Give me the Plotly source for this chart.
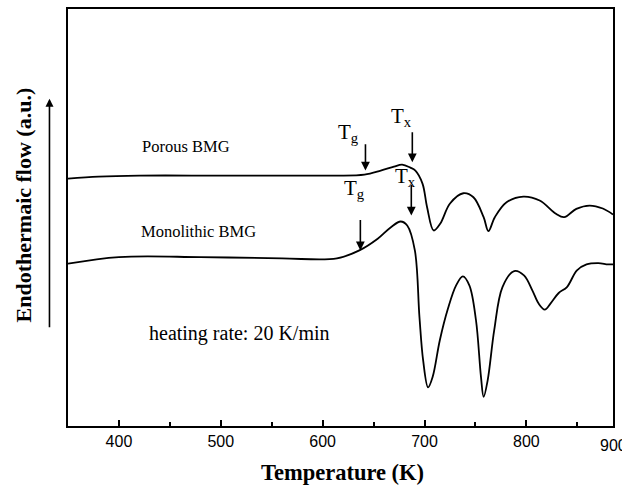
import plotly.graph_objects as go

# Temperature (K) and endothermic flow (a.u.)
temp_porous = [350, 380, 420, 500, 600, 615, 641, 657, 670, 678, 686, 691, 698, 702.5, 709, 715.5,
               725, 738, 748, 758, 762.7, 769, 780.5, 797, 813, 829, 837, 849, 862, 875, 885]
flow_porous = [248, 250, 251, 251, 251, 251, 252, 256, 260, 262, 259, 256, 243, 219.3, 196, 203,
               223, 233.3, 229.3, 209.3, 195.3, 209.3, 224.3, 230, 226, 212.7, 209.3, 217.7, 221, 218, 212]

temp_mono = [350, 400, 480, 560, 614, 636, 654, 667, 676.5, 683, 690.5, 695, 698.6, 703.5, 708, 715,
             723, 731, 737.6, 744, 750.5, 755.4, 758, 762, 768.4, 776.5, 788, 797.6, 805.8, 812, 818,
             823.6, 831.7, 839.8, 849.6, 859, 870.6, 880, 885]
flow_mono = [162.7, 169.3, 169.3, 168, 168, 176, 187.7, 199.3, 205, 201, 176, 109.3, 66, 38.7, 49.3, 86,
             117.7, 141, 150, 141, 106, 49.3, 29.3, 46, 96, 139.3, 155.3, 151, 136, 122.7, 116.7,
             122.7, 133.3, 139.3, 156, 162, 163.3, 162, 162]

major_ticks = [400, 500, 600, 700, 800]
minor_ticks = [450, 550, 650, 750, 850]
tick_labels = ["400", "500", "600", "700", "800"]

SERIF = "Liberation Serif"
SANS = "Liberation Sans"

fig = go.Figure()
for t, f in [(temp_porous, flow_porous), (temp_mono, flow_mono)]:
    fig.add_trace(go.Scatter(x=t, y=f, mode="lines", line=dict(color="black", width=1.8, shape="spline"),
                             showlegend=False, hoverinfo="skip"))

annotations = []
# Tg / Tx arrows: (x, tip y, tail y)
arrows = [(642, 256, 284), (688, 264.3, 296), (637, 176, 208), (687, 211, 243)]
for x, tip, tail in arrows:
    annotations.append(dict(x=x, y=tip, ax=x, ay=tail, xref="x", yref="y", axref="x", ayref="y",
                            text="", showarrow=True, arrowhead=2, arrowsize=1.1, arrowwidth=1.6,
                            arrowcolor="black"))
# Tg / Tx labels
labels = [("T<sub>g</sub>", 625.5, 294), ("T<sub>x</sub>", 677.5, 310),
          ("T<sub>g</sub>", 631, 237.5), ("T<sub>x</sub>", 681, 250)]
for txt, x, y in labels:
    annotations.append(dict(x=x, y=y, xref="x", yref="y", text=txt, showarrow=False,
                            font=dict(family=SERIF, size=21, color="black")))
annotations += [
    dict(x=466, y=280, xref="x", yref="y", text="Porous BMG", showarrow=False,
         font=dict(family=SERIF, size=16.5, color="black")),
    dict(x=478, y=195, xref="x", yref="y", text="Monolithic BMG", showarrow=False,
         font=dict(family=SERIF, size=16.5, color="black")),
    dict(x=518.5, y=93, xref="x", yref="y", text="heating rate: 20 K/min", showarrow=False,
         font=dict(family=SERIF, size=20, color="black")),
    # right-edge tick label
    dict(x=1, y=0, xref="paper", yref="paper", text="900", showarrow=False, xanchor="center",
         yanchor="top", yshift=-9, font=dict(family=SANS, size=16, color="black")),
    # y-axis direction arrow
    dict(x=-0.034, y=0.785, xref="paper", yref="paper", ax=0, ay=230, text="", showarrow=True,
         arrowhead=2, arrowsize=1, arrowwidth=1.6, arrowcolor="black"),
    # y-axis title
    dict(x=-0.08, y=0.53, xref="paper", yref="paper", text="<b>Endothermaic flow (a.u.)</b>",
         textangle=-90, showarrow=False, xanchor="center", yanchor="middle",
         font=dict(family=SERIF, size=22, color="black")),
    # x-axis title
    dict(x=0.503, y=-0.112, xref="paper", yref="paper", text="<b>Temperature (K)</b>",
         showarrow=False, xanchor="center", yanchor="middle",
         font=dict(family=SERIF, size=22.5, color="black")),
]

fig.update_layout(
    width=622, height=485,
    margin=dict(l=68, r=7, t=8, b=59),
    paper_bgcolor="white", plot_bgcolor="white",
    annotations=annotations,
    xaxis=dict(range=[350, 885], tickvals=major_ticks, ticktext=tick_labels, ticks="inside",
               ticklen=6, tickwidth=1.5, tickcolor="black", showline=True, linecolor="black",
               linewidth=1.8, mirror=True, showgrid=False, zeroline=False,
               tickfont=dict(family=SANS, size=16, color="black"),
               minor=dict(tickvals=minor_ticks, ticks="inside", ticklen=4, tickwidth=1.5,
                          tickcolor="black", showgrid=False)),
    yaxis=dict(range=[0, 418], showticklabels=False, ticks="", showline=True, linecolor="black",
               linewidth=1.8, mirror=True, showgrid=False, zeroline=False),
)

fig.write_html("out.html", config={"displayModeBar": False},
               post_script="document.body.style.margin='0';")
